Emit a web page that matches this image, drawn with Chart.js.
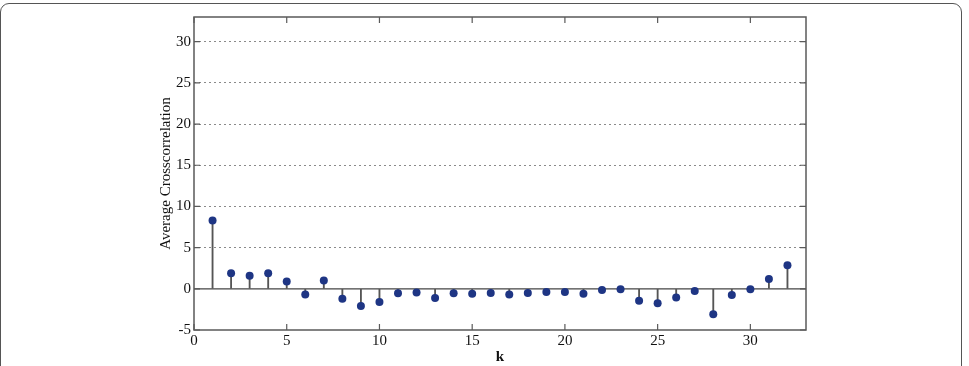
<!DOCTYPE html>
<html>
<head>
<meta charset="utf-8">
<script src="https://cdn.jsdelivr.net/npm/chart.js@4"></script>
<style>
    html, body { margin: 0; padding: 0; background: #fff; }
    #wrap { position: relative; width: 969px; height: 366px; overflow: hidden; }
    #card {
        position: absolute; left: 0; top: 3px; width: 962px; height: 400px;
        border: 1.5px solid #555; border-radius: 9px; box-sizing: border-box;
    }
    canvas { position: absolute; left: 0; top: 0; }
</style>
</head>
<body>
<div id="wrap">
    <div id="card"></div>
    <canvas id="chart" width="969" height="366"></canvas>
</div>
<script>
// lag index k and average crosscorrelation values
const lags = [1, 2, 3, 4, 5, 6, 7, 8, 9, 10, 11, 12, 13, 14, 15, 16,
              17, 18, 19, 20, 21, 22, 23, 24, 25, 26, 27, 28, 29, 30, 31, 32];
const avgXcorr = [8.3, 1.9, 1.6, 1.9, 0.9, -0.7, 1.0, -1.2, -2.1, -1.6, -0.55, -0.45, -1.1, -0.55, -0.6, -0.5,
                  -0.7, -0.5, -0.4, -0.4, -0.6, -0.15, -0.05, -1.45, -1.75, -1.05, -0.25, -3.1, -0.75, -0.05, 1.2, 2.85];
const xTicks = [0, 5, 10, 15, 20, 25, 30];
const yTicks = [-5, 0, 5, 10, 15, 20, 25, 30];
const xRange = [0, 33];
const yRange = [-5, 33];
const baseline = 0;

const FONT = 'Liberation Serif';
const AXIS_COLOR = '#5a5a5a';
const MARKER_COLOR = '#1e3584';

// MATLAB-like box with inward tick marks
const boxPlugin = {
    id: 'box',
    afterDraw(chart) {
        const { ctx, chartArea: a, scales } = chart;
        const len = 6;
        ctx.save();
        ctx.strokeStyle = AXIS_COLOR;
        ctx.lineWidth = 1.5;
        ctx.strokeRect(a.left, a.top, a.right - a.left, a.bottom - a.top);
        ctx.lineWidth = 1.2;
        ctx.beginPath();
        xTicks.forEach(v => {
            const px = scales.x.getPixelForValue(v);
            ctx.moveTo(px, a.bottom); ctx.lineTo(px, a.bottom - len);
            ctx.moveTo(px, a.top); ctx.lineTo(px, a.top + len);
        });
        yTicks.forEach(v => {
            const py = scales.y.getPixelForValue(v);
            ctx.moveTo(a.left, py); ctx.lineTo(a.left + len, py);
            ctx.moveTo(a.right, py); ctx.lineTo(a.right - len, py);
        });
        ctx.stroke();
        ctx.restore();
    }
};

new Chart(document.getElementById('chart'), {
    data: {
        datasets: [
            {
                // zero reference line
                type: 'line',
                data: [{ x: xRange[0], y: baseline }, { x: xRange[1], y: baseline }],
                borderColor: '#444',
                borderWidth: 1.3,
                pointRadius: 0,
                order: 3
            },
            {
                // stems
                type: 'bar',
                data: lags.map((k, i) => ({ x: k, y: [baseline, avgXcorr[i]] })),
                backgroundColor: '#555',
                barThickness: 1.2,
                order: 2
            },
            {
                // stem heads
                type: 'scatter',
                data: lags.map((k, i) => ({ x: k, y: avgXcorr[i] })),
                backgroundColor: MARKER_COLOR,
                borderColor: MARKER_COLOR,
                pointRadius: 4,
                borderWidth: 0,
                order: 1
            }
        ]
    },
    options: {
        responsive: false,
        animation: false,
        layout: { padding: { left: 157, top: 17, right: 163, bottom: 0 } },
        plugins: { legend: { display: false }, tooltip: { enabled: false } },
        scales: {
            x: {
                type: 'linear',
                min: xRange[0],
                max: xRange[1],
                offset: false,
                afterBuildTicks: s => { s.ticks = xTicks.map(v => ({ value: v })); },
                afterFit: s => { s.height = 36; },
                grid: { display: false, drawTicks: false },
                border: { display: false },
                ticks: { color: '#111', padding: 2, font: { family: FONT, size: 15 }, maxRotation: 0 },
                title: { display: true, text: 'k', color: '#111', padding: 0, font: { family: FONT, size: 15, weight: 'bold' } }
            },
            y: {
                min: yRange[0],
                max: yRange[1],
                afterBuildTicks: s => { s.ticks = yTicks.map(v => ({ value: v })); },
                afterFit: s => { s.width = 37; },
                grid: {
                    color: ctx => (ctx.tick && (ctx.tick.value === baseline || ctx.tick.value === yRange[0])) ? 'rgba(0,0,0,0)' : '#8a8a8a',
                    lineWidth: 1,
                    drawTicks: false
                },
                border: { display: false, dash: [2, 3] },
                ticks: { color: '#111', padding: 3, font: { family: FONT, size: 15 } },
                title: { display: true, text: 'Average Crosscorrelation', color: '#111', padding: 0, font: { family: FONT, size: 15 } }
            }
        }
    },
    plugins: [boxPlugin]
});
</script>
</body>
</html>
